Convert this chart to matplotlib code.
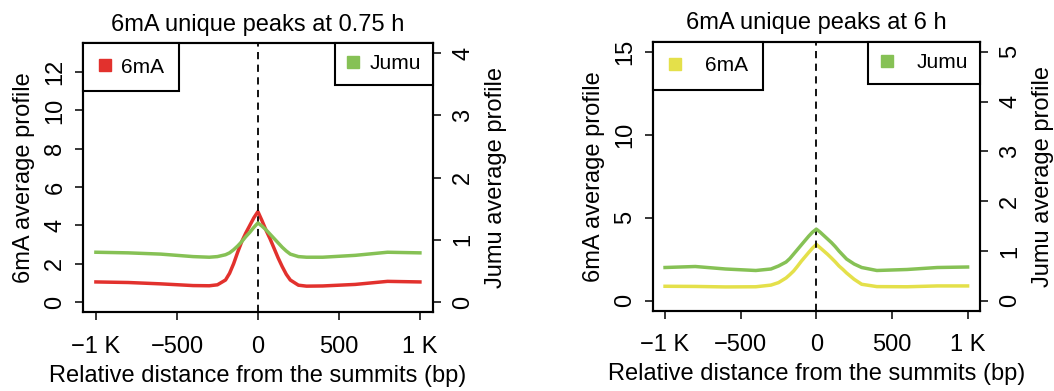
import matplotlib
matplotlib.use("Agg")
import matplotlib.pyplot as plt
from matplotlib.lines import Line2D

plt.rcParams['font.family'] = ['Liberation Sans', 'DejaVu Sans']

red = "#e2312d"
green = "#86c155"
yellow = "#e4e04a"

# positions relative to the summit (bp)
dist = [-1000, -800, -600, -400, -300, -250, -200, -175, -150, -125, -100, -75, -50, -25, 0,
        25, 50, 75, 100, 125, 150, 175, 200, 250, 300, 400, 600, 800, 1000]

# 6mA unique peaks at 0.75 h
m6a_075 = [1.05, 1.02, 0.95, 0.86, 0.85, 0.90, 1.15, 1.50, 2.00, 2.60, 3.15, 3.60, 4.00, 4.40, 4.72,
           4.25, 3.75, 3.30, 2.80, 2.30, 1.85, 1.45, 1.15, 0.88, 0.83, 0.84, 0.92, 1.08, 1.05]
jumu_075 = [0.80, 0.79, 0.77, 0.73, 0.72, 0.73, 0.76, 0.79, 0.84, 0.90, 0.97, 1.05, 1.12, 1.20, 1.27,
            1.22, 1.16, 1.09, 1.02, 0.95, 0.88, 0.82, 0.77, 0.73, 0.72, 0.72, 0.75, 0.80, 0.79]

# 6mA unique peaks at 6 h
m6a_6 = [0.88, 0.87, 0.84, 0.85, 0.95, 1.10, 1.38, 1.58, 1.80, 2.08, 2.38, 2.65, 2.92, 3.18, 3.40,
         3.20, 3.00, 2.80, 2.58, 2.35, 2.10, 1.90, 1.68, 1.30, 1.00, 0.86, 0.85, 0.90, 0.90]
jumu_6 = [0.67, 0.69, 0.64, 0.61, 0.64, 0.70, 0.78, 0.85, 0.94, 1.03, 1.12, 1.21, 1.30, 1.38, 1.44,
          1.38, 1.31, 1.24, 1.17, 1.09, 1.00, 0.92, 0.84, 0.74, 0.67, 0.61, 0.63, 0.67, 0.68]

xticks = [-1000, -500, 0, 500, 1000]
xticklabels = ["\u22121 K", "\u2212500", "0", "500", "1 K"]

fs = 17


def rlim(lo, hi):
    r = hi - lo
    return lo - 0.04 * r, hi + 0.04 * r


def panel(pos, title, y1, y2, c1, ylim1, yt1, ylim2, yt2, gap):
    ax = fig.add_axes(pos)
    ax2 = ax.twinx()
    ax.plot(dist, y1, color=c1, lw=2.5, solid_joinstyle='round', zorder=3)
    ax2.plot(dist, y2, color=green, lw=2.5, solid_joinstyle='round', zorder=2)
    ax.axvline(0, color='black', ls=(0, (4, 3)), lw=1.3, zorder=4)
    ax.set_xlim(-1080, 1080)
    ax.set_ylim(*rlim(*ylim1))
    ax2.set_ylim(*rlim(*ylim2))
    ax.set_yticks(yt1)
    ax2.set_yticks(yt2)
    ax.set_xticks(xticks)
    ax.set_xticklabels(xticklabels)
    for a in (ax, ax2):
        a.tick_params(labelsize=fs, length=6, width=1.1, direction='out')
        for s in a.spines.values():
            s.set_linewidth(1.5)
    for lab in ax.get_yticklabels() + ax2.get_yticklabels():
        lab.set_rotation(90)
        lab.set_va('center')
    ax.tick_params(axis='y', pad=6)
    ax2.tick_params(axis='y', pad=8)
    ax.tick_params(axis='x', pad=11)
    ax.set_title(title, fontsize=fs, pad=9)
    ax.set_xlabel("Relative distance from the summits (bp)", fontsize=fs, labelpad=5)
    ax.set_ylabel("6mA average profile", fontsize=fs, labelpad=7)
    ax2.set_ylabel("Jumu average profile", fontsize=fs, rotation=90, labelpad=8)

    h1 = Line2D([], [], marker='s', ls='none', color=c1, markersize=8)
    h2 = Line2D([], [], marker='s', ls='none', color=green, markersize=8)
    leg1 = ax2.legend([h1], ["6mA"], loc='upper left', borderaxespad=0,
                      fancybox=False, edgecolor='black', fontsize=15,
                      handlelength=0.7, handletextpad=gap, borderpad=0.7,
                      framealpha=1)
    leg1.get_frame().set_linewidth(1.5)
    ax2.add_artist(leg1)
    leg2 = ax2.legend([h2], ["Jumu"], loc='upper right', borderaxespad=0,
                      fancybox=False, edgecolor='black', fontsize=15,
                      handlelength=0.7, handletextpad=gap, borderpad=0.55,
                      framealpha=1)
    leg2.get_frame().set_linewidth(1.5)


fig = plt.figure(figsize=(10.54, 3.91), dpi=100)

panel([0.0787, 0.202, 0.332, 0.688], "6mA unique peaks at 0.75 h",
      m6a_075, jumu_075, red, (0, 13), [0, 2, 4, 6, 8, 10, 12], (0, 4), [0, 1, 2, 3, 4], 0.45)
panel([0.6195, 0.205, 0.310, 0.688], "6mA unique peaks at 6 h",
      m6a_6, jumu_6, yellow, (0, 15), [0, 5, 10, 15], (0, 5), [0, 1, 2, 3, 4, 5], 1.1)

fig.savefig("out.png", dpi=100)
